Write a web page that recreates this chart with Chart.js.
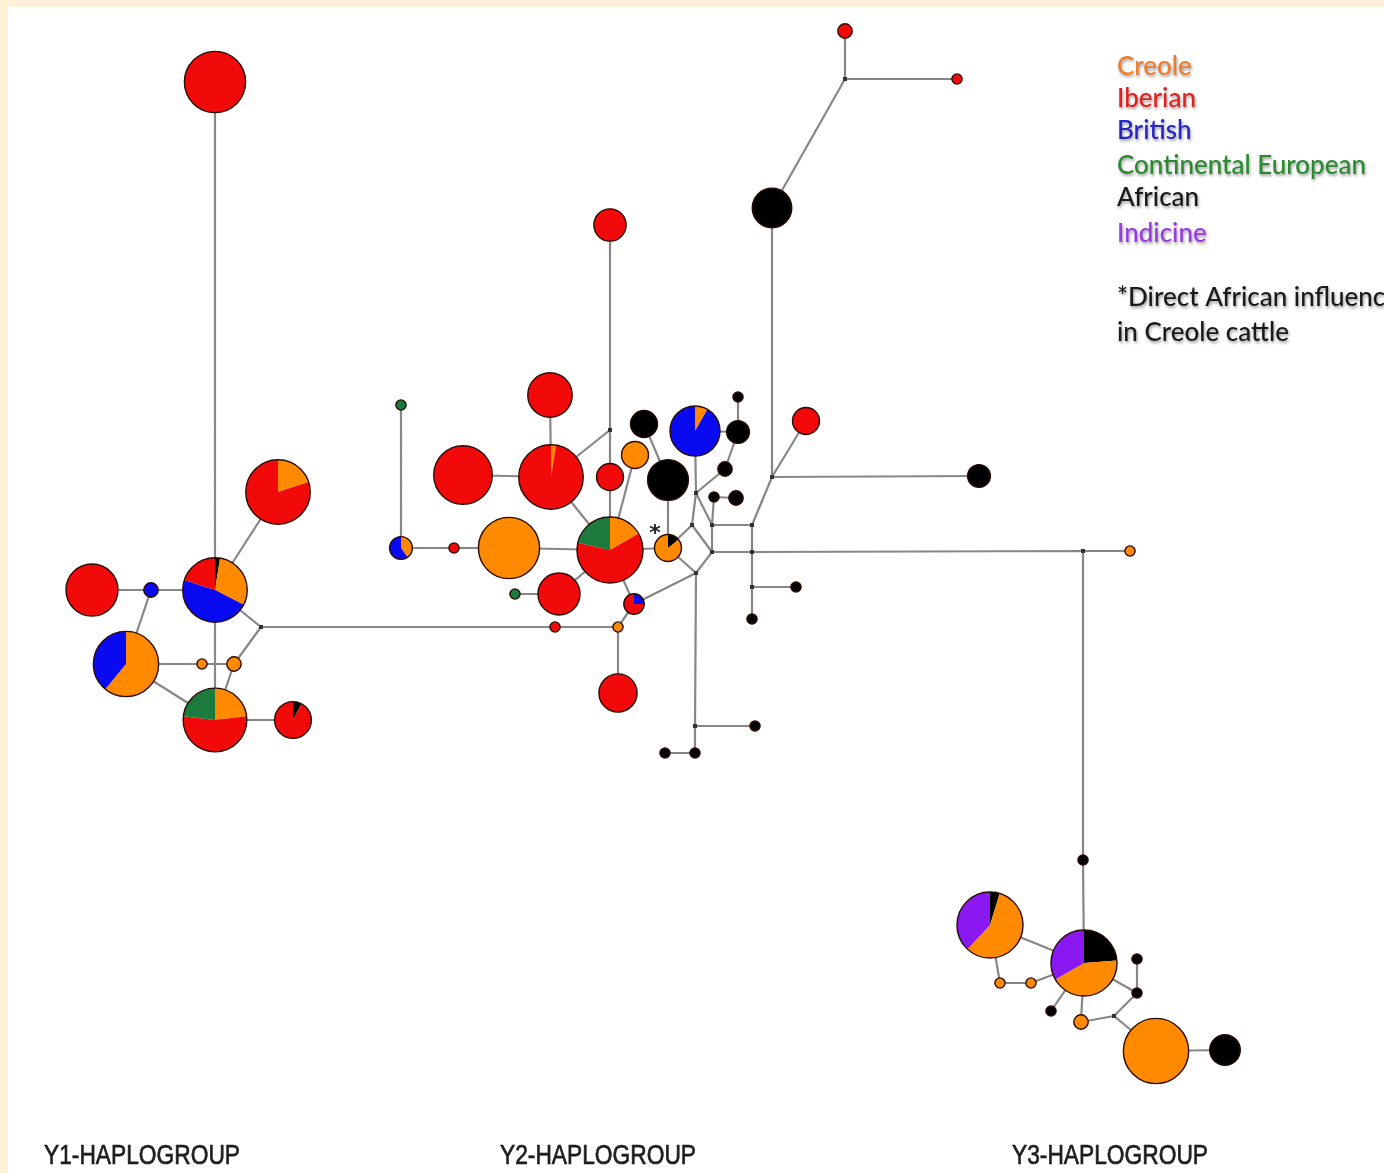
<!DOCTYPE html>
<html>
<head>
<meta charset="utf-8">
<title>Y-chromosome haplotype network</title>
<script src="https://cdn.jsdelivr.net/npm/chart.js@4.4.1/dist/chart.umd.min.js"></script>
<style>
  html, body { margin: 0; padding: 0; background: #fff; }
  #wrap { width: 1384px; height: 1173px; position: relative; }
</style>
</head>
<body>
<div id="wrap"><canvas id="net"></canvas></div>
<script>
// populations (codes used in nodeCounts: C I B E A Z)
const categories = ["Creole", "Iberian", "British", "Continental European", "African", "Indicine"];
const categoryCodes = ["C", "I", "B", "E", "A", "Z"];

// haplotypes, in network layout units
const nodeNames = [
  // Y1
  "y1_top", "y1_ne", "y1_hub", "y1_w", "y1_b", "y1_sw", "y1_o1", "y1_o2", "y1_s", "y1_se", "y1_mv",
  // Y2
  "y2_g1", "y2_bo", "y2_r1", "y2_or", "y2_rw", "y2_rc", "y2_rn", "y2_rt", "y2_mv1", "y2_ri",
  "y2_hub", "y2_ok", "y2_al", "y2_am", "y2_bn", "y2_star", "y2_rp", "y2_g2", "y2_rb", "y2_rs",
  "y2_ot", "y2_ru", "y2_mv2", "y2_mv3", "y2_mv4", "y2_mv5", "y2_mv6", "y2_mv7", "y2_mv8", "y2_mv9",
  "y2_mv10", "y2_mv11", "y2_mv12", "y2_a1", "y2_a2", "y2_a3", "y2_a4", "y2_a5", "y2_a6", "y2_a7",
  "y2_a8", "y2_a9", "y2_a10", "y2_a11", "y2_a12", "y2_rr", "y2_rtop", "y2_rright",
  // Y3
  "y3_mv0", "y3_o0", "y3_a0", "y3_hub", "y3_w", "y3_o1", "y3_o2", "y3_a1", "y3_o3", "y3_mv1",
  "y3_a2", "y3_a3", "y3_obig", "y3_ae"
];
const nodeX = [
  215, 278, 215, 92, 151, 126, 202, 234, 215, 293, 261,
  401, 401, 454, 509, 463, 551, 550, 610, 610, 610,
  610, 635, 644, 668, 695, 668, 559, 515, 634, 555,
  618, 618, 696, 692, 712, 712, 696, 752, 752, 752,
  772, 695, 845, 738, 738, 725, 714, 736, 796, 752,
  772, 979, 695, 665, 755, 806, 845, 957,
  1083, 1130, 1083, 1084, 990, 1000, 1031, 1051, 1081, 1114,
  1137, 1137, 1156, 1225
];
const nodeY = [
  82, 492, 590, 590, 590, 664, 664, 664, 720, 720, 627,
  405, 548, 548, 548, 475, 477, 395, 225, 430, 477,
  550, 455, 424, 480, 431, 548, 594, 594, 604, 627,
  627, 693, 493, 525, 525, 552, 573, 525, 552, 587,
  477, 726, 79, 397, 432, 469, 497, 498, 587, 619,
  208, 476, 753, 753, 726, 421, 31, 79,
  551, 551, 860, 963, 925, 983, 983, 1011, 1022, 1016,
  993, 959, 1051, 1050
];
// samples per population, slices listed clockwise from 12 o'clock; [] = median vector
const nodeCounts = [
  [["I", 36]], [["C", 8], ["I", 32]], [["A", 1], ["C", 12], ["B", 19], ["I", 8]], [["I", 26]],
  [["B", 2]], [["C", 25], ["B", 16]], [["C", 1]], [["C", 2]], [["C", 9], ["I", 21], ["E", 9]],
  [["A", 1], ["I", 12]], [],

  [["E", 1]], [["C", 2], ["B", 3]], [["I", 1]], [["C", 36]], [["I", 33]], [["C", 1], ["I", 39]],
  [["I", 19]], [["I", 10]], [], [["I", 7]],
  [["C", 7], ["I", 26], ["E", 9]], [["C", 7]], [["A", 7]], [["A", 16]], [["C", 2], ["B", 22]],
  [["A", 1], ["C", 6]], [["I", 17]], [["E", 1]], [["B", 1], ["I", 3]], [["I", 1]],
  [["C", 1]], [["I", 14]], [], [], [], [], [], [], [], [],
  [], [], [], [["A", 1]], [["A", 5]], [["A", 2]], [["A", 1]], [["A", 2]], [["A", 1]], [["A", 1]],
  [["A", 15]], [["A", 5]], [["A", 1]], [["A", 1]], [["A", 1]], [["I", 7]], [["I", 2]], [["I", 1]],

  [], [["C", 1]], [["A", 1]], [["A", 10], ["C", 18], ["Z", 14]], [["A", 2], ["C", 24], ["Z", 16]],
  [["C", 1]], [["C", 1]], [["A", 1]], [["C", 2]], [],
  [["A", 1]], [["A", 1]], [["C", 41]], [["A", 9]]
];

// mutational links between haplotypes
const edges = [
  ["y1_top", "y1_hub"], ["y1_ne", "y1_hub"], ["y1_w", "y1_b"], ["y1_b", "y1_hub"], ["y1_b", "y1_sw"],
  ["y1_sw", "y1_o1"], ["y1_o1", "y1_o2"], ["y1_o2", "y1_mv"], ["y1_hub", "y1_mv"], ["y1_hub", "y1_s"],
  ["y1_o2", "y1_s"], ["y1_sw", "y1_s"], ["y1_s", "y1_se"], ["y1_mv", "y2_rs"], ["y2_rs", "y2_ot"],

  ["y2_g1", "y2_bo"], ["y2_bo", "y2_r1"], ["y2_r1", "y2_or"], ["y2_or", "y2_hub"], ["y2_rw", "y2_rc"],
  ["y2_rc", "y2_rn"], ["y2_rc", "y2_mv1"], ["y2_rt", "y2_mv1"], ["y2_mv1", "y2_ri"], ["y2_ri", "y2_hub"],
  ["y2_rc", "y2_hub"], ["y2_ok", "y2_hub"], ["y2_al", "y2_am"], ["y2_am", "y2_star"], ["y2_star", "y2_hub"],
  ["y2_star", "y2_mv3"], ["y2_star", "y2_mv6"], ["y2_mv3", "y2_mv2"], ["y2_mv3", "y2_mv5"], ["y2_mv6", "y2_mv5"],
  ["y2_mv2", "y2_a3"], ["y2_mv2", "y2_bn"], ["y2_mv2", "y2_mv4"], ["y2_mv4", "y2_a4"], ["y2_a4", "y2_a5"],
  ["y2_mv4", "y2_mv7"], ["y2_mv4", "y2_mv5"], ["y2_a3", "y2_a2"], ["y2_a2", "y2_a1"], ["y2_bn", "y2_a2"],
  ["y2_mv7", "y2_mv10"], ["y2_mv10", "y2_rr"], ["y2_mv10", "y2_a9"], ["y2_mv10", "y2_a8"], ["y2_mv7", "y2_mv8"],
  ["y2_mv8", "y2_mv9"], ["y2_mv9", "y2_a7"], ["y2_mv9", "y2_a6"], ["y2_mv5", "y2_mv8"], ["y2_mv8", "y3_mv0"],
  ["y3_mv0", "y3_o0"], ["y2_mv6", "y2_rb"], ["y2_mv6", "y2_mv11"], ["y2_mv11", "y2_a10"], ["y2_mv11", "y2_a12"],
  ["y2_a10", "y2_a11"], ["y2_hub", "y2_rp"], ["y2_rp", "y2_g2"], ["y2_hub", "y2_rb"], ["y2_rb", "y2_ot"],
  ["y2_ot", "y2_ru"], ["y2_a8", "y2_mv12"], ["y2_mv12", "y2_rtop"], ["y2_mv12", "y2_rright"],

  ["y3_mv0", "y3_a0"], ["y3_a0", "y3_hub"], ["y3_hub", "y3_w"], ["y3_w", "y3_o1"], ["y3_o1", "y3_o2"],
  ["y3_o2", "y3_hub"], ["y3_hub", "y3_a1"], ["y3_hub", "y3_o3"], ["y3_o3", "y3_mv1"], ["y3_mv1", "y3_a2"],
  ["y3_a2", "y3_a3"], ["y3_a2", "y3_hub"], ["y3_mv1", "y3_obig"], ["y3_obig", "y3_ae"]
];

const groupLabels = ["Y1-HAPLOGROUP", "Y2-HAPLOGROUP", "Y3-HAPLOGROUP"];
const footnote = ["*Direct African influence", "in Creole cattle"];

// ---- styling ----
const sliceColors = {
  C: "#ff8a00", I: "#f20a0a", B: "#0a0af0", E: "#1c7a3c", A: "#000000", Z: "#8a18f0"
};
const legendColors = ["#ef7d2e", "#e3201e", "#2626c8", "#2a8a30", "#1a1a1a", "#9a3ae0"];

const idx = {};
nodeNames.forEach((n, i) => { idx[n] = i; });

const edgePoints = [];
edges.forEach(([a, b]) => {
  edgePoints.push({ x: nodeX[idx[a]], y: nodeY[idx[a]] });
  edgePoints.push({ x: nodeX[idx[b]], y: nodeY[idx[b]] });
  edgePoints.push({ x: null, y: null });
});
const nodePoints = nodeNames.map((n, i) => ({ x: nodeX[i], y: nodeY[i] }));

const radiusFor = (n) => 5.1 * Math.sqrt(n);

const background = {
  id: "background",
  beforeDraw(chart) {
    const { ctx, width, height } = chart;
    ctx.save();
    ctx.fillStyle = "#ffffff";
    ctx.fillRect(0, 0, width, height);
    ctx.fillStyle = "#fcf0d6";
    ctx.fillRect(0, 0, width, 7);
    ctx.fillRect(0, 0, 8, height);
    ctx.restore();
  }
};

// each haplotype as a pie, area proportional to sample size
const pieGlyphs = {
  id: "pieGlyphs",
  afterDatasetsDraw(chart) {
    const ctx = chart.ctx;
    const meta = chart.getDatasetMeta(1);
    ctx.save();
    meta.data.forEach((pt, i) => {
      const slices = nodeCounts[i];
      const total = slices.reduce((s, d) => s + d[1], 0);
      const x = pt.x, y = pt.y;
      if (!total) {
        ctx.fillStyle = "#333333";
        ctx.fillRect(x - 2, y - 2, 4, 4);
        return;
      }
      const r = radiusFor(total);
      let a = -Math.PI / 2;
      slices.forEach(([code, n]) => {
        const a2 = a + (n / total) * Math.PI * 2;
        ctx.beginPath();
        ctx.moveTo(x, y);
        ctx.arc(x, y, r, a, a2);
        ctx.closePath();
        ctx.fillStyle = sliceColors[code];
        ctx.fill();
        a = a2;
      });
      ctx.beginPath();
      ctx.arc(x, y, r, 0, Math.PI * 2);
      ctx.lineWidth = 1.4;
      ctx.strokeStyle = "#2a0c06";
      ctx.stroke();
    });

    // marker for the haplotype with direct African influence
    const star = meta.data[idx["y2_star"]];
    ctx.fillStyle = "#222";
    ctx.font = "bold 22px 'DejaVu Sans'";
    ctx.textAlign = "center";
    ctx.textBaseline = "middle";
    ctx.fillText("*", star.x - 13, star.y - 14);
    ctx.restore();
  }
};

function fitText(ctx, text, x, y, width) {
  const w = ctx.measureText(text).width;
  ctx.save();
  ctx.translate(x, y);
  ctx.scale(width / w, 1);
  ctx.fillText(text, 0, 0);
  ctx.strokeText(text, 0, 0);
  ctx.restore();
}

const annotations = {
  id: "annotations",
  afterDraw(chart) {
    const ctx = chart.ctx;
    ctx.save();
    ctx.textAlign = "left";
    ctx.textBaseline = "middle";
    ctx.font = "500 26px Lato";
    ctx.shadowColor = "rgba(0,0,0,0.4)";
    ctx.shadowBlur = 3;
    ctx.shadowOffsetX = 1;
    ctx.shadowOffsetY = 2;
    const rows = [67, 99, 131, 166, 198, 234];
    categories.forEach((c, i) => {
      ctx.fillStyle = legendColors[i];
      ctx.fillText(c, 1117, rows[i]);
    });
    ctx.fillStyle = "#1a1a1a";
    ctx.fillText(footnote[0], 1117, 298);
    ctx.fillText(footnote[1], 1117, 333);

    ctx.shadowColor = "transparent";
    ctx.fillStyle = "#1e1e1e";
    ctx.strokeStyle = "#1e1e1e";
    ctx.lineWidth = 0.7;
    ctx.font = "28px 'Liberation Sans'";
    const lx = [44, 500, 1012];
    groupLabels.forEach((t, i) => fitText(ctx, t, lx[i], 1156, 196));
    ctx.restore();
  }
};

new Chart(document.getElementById("net"), {
  type: "scatter",
  data: {
    datasets: [
      {
        label: "links",
        data: edgePoints,
        showLine: true,
        spanGaps: false,
        borderColor: "#878787",
        borderWidth: 2.2,
        pointRadius: 0,
        pointHoverRadius: 0,
        clip: false
      },
      {
        label: "haplotypes",
        data: nodePoints,
        pointRadius: 0,
        pointHoverRadius: 0,
        clip: false
      }
    ]
  },
  options: {
    responsive: true,
    maintainAspectRatio: false,
    animation: false,
    events: [],
    layout: { padding: 0, autoPadding: false },
    scales: {
      x: { type: "linear", min: 0, max: 1384, display: false },
      y: { type: "linear", min: 0, max: 1173, reverse: true, display: false }
    },
    plugins: {
      legend: { display: false },
      tooltip: { enabled: false }
    }
  },
  plugins: [background, pieGlyphs, annotations]
});
</script>
</body>
</html>
